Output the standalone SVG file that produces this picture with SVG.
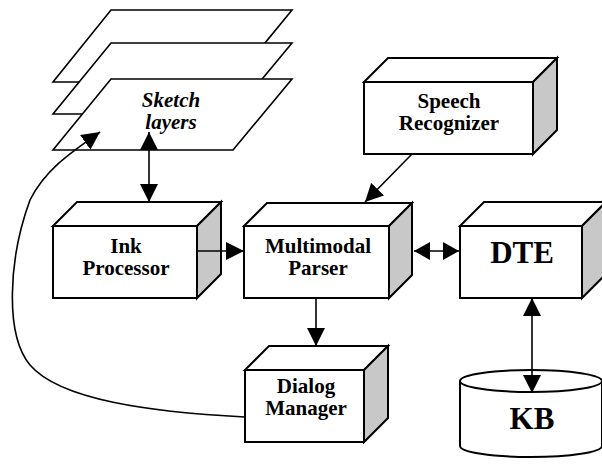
<svg xmlns="http://www.w3.org/2000/svg" width="602" height="466" viewBox="0 0 602 466">
<style>
.face{fill:#fff;stroke:#000;stroke-width:2;stroke-linejoin:miter}
.side{fill:#c8c8c8;stroke:#000;stroke-width:2}
.layer{fill:#fff;stroke:#000;stroke-width:1.6}
.lbl{font-family:"Liberation Serif","Times New Roman",serif;font-weight:bold;font-size:21px;text-anchor:middle;fill:#000}
.big{font-size:31px}
.it{font-style:italic}
.con{fill:none;stroke:#000;stroke-width:1.6}
</style>
<defs>
<marker id="ah" viewBox="0 0 18 18" markerUnits="userSpaceOnUse" markerWidth="18" markerHeight="18" refX="18" refY="9" orient="auto-start-reverse">
<path d="M0,0 L18,9 L0,18 Z" fill="#000"/>
</marker>
<marker id="ahs" viewBox="0 0 16 18" markerUnits="userSpaceOnUse" markerWidth="16" markerHeight="18" refX="16" refY="9" orient="auto-start-reverse">
<path d="M0,0 L16,9 L0,18 Z" fill="#000"/>
</marker>
</defs>
<g id="sketch-layers">
<polygon class="layer" points="111,10 292,10 233,82 53,82"/>
<polygon class="layer" points="111,43 292,43 233,114 53,114"/>
<polygon class="layer" points="111,79 292,79 233,150 53,150"/>
<text class="lbl it" x="171" y="107">Sketch</text>
<text class="lbl it" x="171" y="129">layers</text>
</g>
<g id="speech-recognizer">
<polygon class="face" points="364,82 388,58 557,58 533,82"/>
<polygon class="side" points="533,82 557,58 557,130 533,154"/>
<rect class="face" x="364" y="82" width="169" height="72"/>
<text class="lbl" x="449" y="108">Speech</text>
<text class="lbl" x="449" y="130">Recognizer</text>
</g>
<g id="ink-processor">
<polygon class="face" points="53,226 77,202 221,202 197,226"/>
<polygon class="side" points="197,226 221,202 221,274 197,298"/>
<rect class="face" x="53" y="226" width="144" height="72"/>
<text class="lbl" x="126" y="253">Ink</text>
<text class="lbl" x="126" y="275">Processor</text>
</g>
<g id="multimodal-parser">
<polygon class="face" points="244,226 267,203 412,203 389,226"/>
<polygon class="side" points="389,226 412,203 412,275 389,298"/>
<rect class="face" x="244" y="226" width="145" height="72"/>
<text class="lbl" x="318" y="253">Multimodal</text>
<text class="lbl" x="318" y="275">Parser</text>
</g>
<g id="dte">
<polygon class="face" points="460,226 484,202 606,202 582,226"/>
<polygon class="side" points="582,226 606,202 606,274 582,298"/>
<rect class="face" x="460" y="226" width="122" height="72"/>
<text class="lbl big" x="522" y="263">DTE</text>
</g>
<g id="dialog-manager">
<polygon class="face" points="245,370 269,346 388,346 364,370"/>
<polygon class="side" points="364,370 388,346 388,418 364,442"/>
<rect class="face" x="245" y="370" width="119" height="72"/>
<text class="lbl" x="306" y="393">Dialog</text>
<text class="lbl" x="306" y="415">Manager</text>
</g>
<g id="kb">
<path class="face" d="M460,381 L460,446 A71,11 0 0 0 602,446 L602,381"/>
<ellipse class="face" cx="531" cy="381" rx="71" ry="11"/>
<text class="lbl big" x="532" y="429">KB</text>
</g>
<g id="connectors">
<line class="con" x1="149" y1="132" x2="149" y2="202" marker-start="url(#ah)" marker-end="url(#ah)"/>
<line class="con" x1="197" y1="251" x2="244" y2="251" marker-end="url(#ah)"/>
<line class="con" x1="412" y1="154" x2="365" y2="202" marker-end="url(#ah)"/>
<line class="con" x1="414" y1="251" x2="459" y2="251" marker-start="url(#ahs)" marker-end="url(#ahs)"/>
<line class="con" x1="316" y1="298" x2="316" y2="346" marker-end="url(#ah)"/>
<line class="con" x1="532" y1="298" x2="532" y2="393" marker-start="url(#ah)" marker-end="url(#ah)"/>
<path class="con" d="M245,417 C150,412 60,400 30,365 C5,335 8,260 30,200 C45,170 70,153 100,132" marker-end="url(#ah)"/>
</g>
</svg>
